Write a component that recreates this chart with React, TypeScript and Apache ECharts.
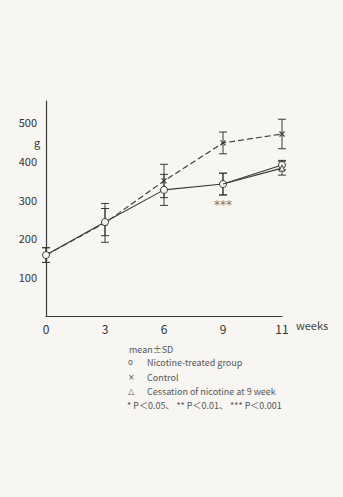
import React, { useEffect, useRef } from "react";
import * as echarts from "echarts";

const weeks = ["0", "3", "6", "9", "11"];
const yTicks = [100, 200, 300, 400, 500];

const controlMean = [157, 240, 348, 446, 469];
const controlSD = [19, 50, 43, 28, 38];
const nicotineMean = [157, 242, 325, 340, 389];
const nicotineSD = [19, 35, 40, 28, 12];
const cessationMean: (number | null)[] = [null, null, null, 340, 381];
const cessationSD: (number | null)[] = [null, null, null, 28, 18];

const legendLines = [
  { sym: "o", text: "Nicotine-treated group" },
  { sym: "×", text: "Control" },
  { sym: "△", text: "Cessation of nicotine at 9 week" },
];
const pLine = "* P＜0.05、 ** P＜0.01、 *** P＜0.001";

const INK = "#3a3a3a";
const BG = "#f7f6f2";
const FONT = "'Noto Sans CJK JP', 'Noto Sans', sans-serif";

function errData(mean: (number | null)[], sd: (number | null)[]) {
  const out: number[][] = [];
  mean.forEach((m, i) => {
    const s = sd[i];
    if (m != null && s != null) out.push([i, m - s, m + s]);
  });
  return out;
}

function errSeries(mean: (number | null)[], sd: (number | null)[]) {
  return {
    type: "custom",
    data: errData(mean, sd),
    z: 1,
    silent: true,
    encode: { x: 0, y: [1, 2] },
    renderItem: (params: any, api: any) => {
      const x = api.value(0);
      const lo = api.coord([x, api.value(1)]);
      const hi = api.coord([x, api.value(2)]);
      const w = 4;
      return {
        type: "group",
        children: [
          { type: "rect", shape: { x: lo[0] - 0.5, y: hi[1], width: 1, height: lo[1] - hi[1] }, style: { fill: INK } },
          { type: "rect", shape: { x: lo[0] - w, y: lo[1] - 0.5, width: 2 * w, height: 1 }, style: { fill: INK } },
          { type: "rect", shape: { x: hi[0] - w, y: hi[1] - 0.5, width: 2 * w, height: 1 }, style: { fill: INK } },
        ],
      };
    },
  };
}

export default function App() {
  const ref = useRef<HTMLDivElement>(null);
  useEffect(() => {
    if (!ref.current) return;
    const chart = echarts.init(ref.current, null, { renderer: "svg" });
    const graphics: any[] = [
      { type: "text", left: 34, top: 136, style: { text: "g", font: `11px ${FONT}`, fill: INK } },
      { type: "text", left: 129, top: 345, style: { text: "mean±SD", font: `9px ${FONT}`, fill: "#555" } },
    ];
    legendLines.forEach((l, i) => {
      const top = 358 + i * 14.5;
      graphics.push({ type: "text", left: 128, top: top + 0.5, style: { text: l.sym, font: `8px 'DejaVu Sans', sans-serif`, fill: "#555" } });
      graphics.push({ type: "text", left: 147, top, style: { text: l.text, font: `9px ${FONT}`, fill: "#555" } });
    });
    graphics.push({ type: "text", left: 127, top: 401, style: { text: pLine, font: `9px ${FONT}`, fill: "#555" } });

    // the cessation group shares the week-9 point with the treated group; only its own marker at week 11 is shown
    const cessationData = cessationMean.map((v, i) =>
      v == null ? null : i === 3 ? { value: v, symbol: "none" } : v
    );

    chart.setOption({
      animation: false,
      backgroundColor: BG,
      grid: { left: 46, top: 101, right: 61, bottom: 181, containLabel: false },
      xAxis: {
        type: "category",
        data: weeks,
        boundaryGap: false,
        axisLine: { lineStyle: { color: INK, width: 1.2 } },
        axisTick: { show: false },
        axisLabel: { color: "#333", fontSize: 12, margin: 6, fontFamily: FONT },
        name: "weeks",
        nameLocation: "end",
        nameGap: 14,
        nameTextStyle: { color: "#444", fontSize: 11, fontFamily: FONT, verticalAlign: "top", padding: [4, 0, 0, 0] },
      },
      yAxis: {
        type: "value",
        min: 0,
        max: 554,
        interval: 100,
        axisLine: { show: true, lineStyle: { color: INK, width: 1.2 } },
        axisTick: { show: false },
        splitLine: { show: false },
        axisLabel: {
          color: "#333",
          fontSize: 11,
          margin: 9,
          fontFamily: FONT,
          formatter: (v: number) => (yTicks.includes(v) ? String(v) : ""),
        },
      },
      graphic: graphics,
      series: [
        errSeries(controlMean, controlSD),
        errSeries(nicotineMean, nicotineSD),
        errSeries(cessationMean, cessationSD),
        {
          type: "line",
          data: controlMean,
          symbol: "path://M0,0L10,10M10,0L0,10",
          symbolSize: 5,
          itemStyle: { color: INK, borderColor: INK, borderWidth: 1.2 },
          lineStyle: { color: INK, width: 1.1, type: [6, 3] },
          z: 3,
        },
        {
          type: "line",
          data: cessationData,
          symbol: "triangle",
          symbolSize: 6,
          itemStyle: { color: BG, borderColor: INK, borderWidth: 1 },
          lineStyle: { color: INK, width: 1.1 },
          z: 5,
        },
        {
          type: "line",
          data: nicotineMean,
          symbol: "circle",
          symbolSize: 7,
          itemStyle: { color: BG, borderColor: INK, borderWidth: 1 },
          lineStyle: { color: INK, width: 1.1 },
          z: 4,
          markPoint: {
            symbol: "circle",
            symbolSize: 0,
            data: [{ coord: ["9", nicotineMean[3]], value: "***" }],
            label: {
              show: true,
              formatter: "***",
              color: "#777",
              fontSize: 12,
              offset: [0, 21],
              fontFamily: "'DejaVu Sans', sans-serif",
            },
          },
        },
      ],
    });
    return () => chart.dispose();
  }, []);
  return (
    <div
      ref={ref}
      style={{ position: "fixed", left: 0, top: 0, width: 343, height: 497 }}
    />
  );
}
